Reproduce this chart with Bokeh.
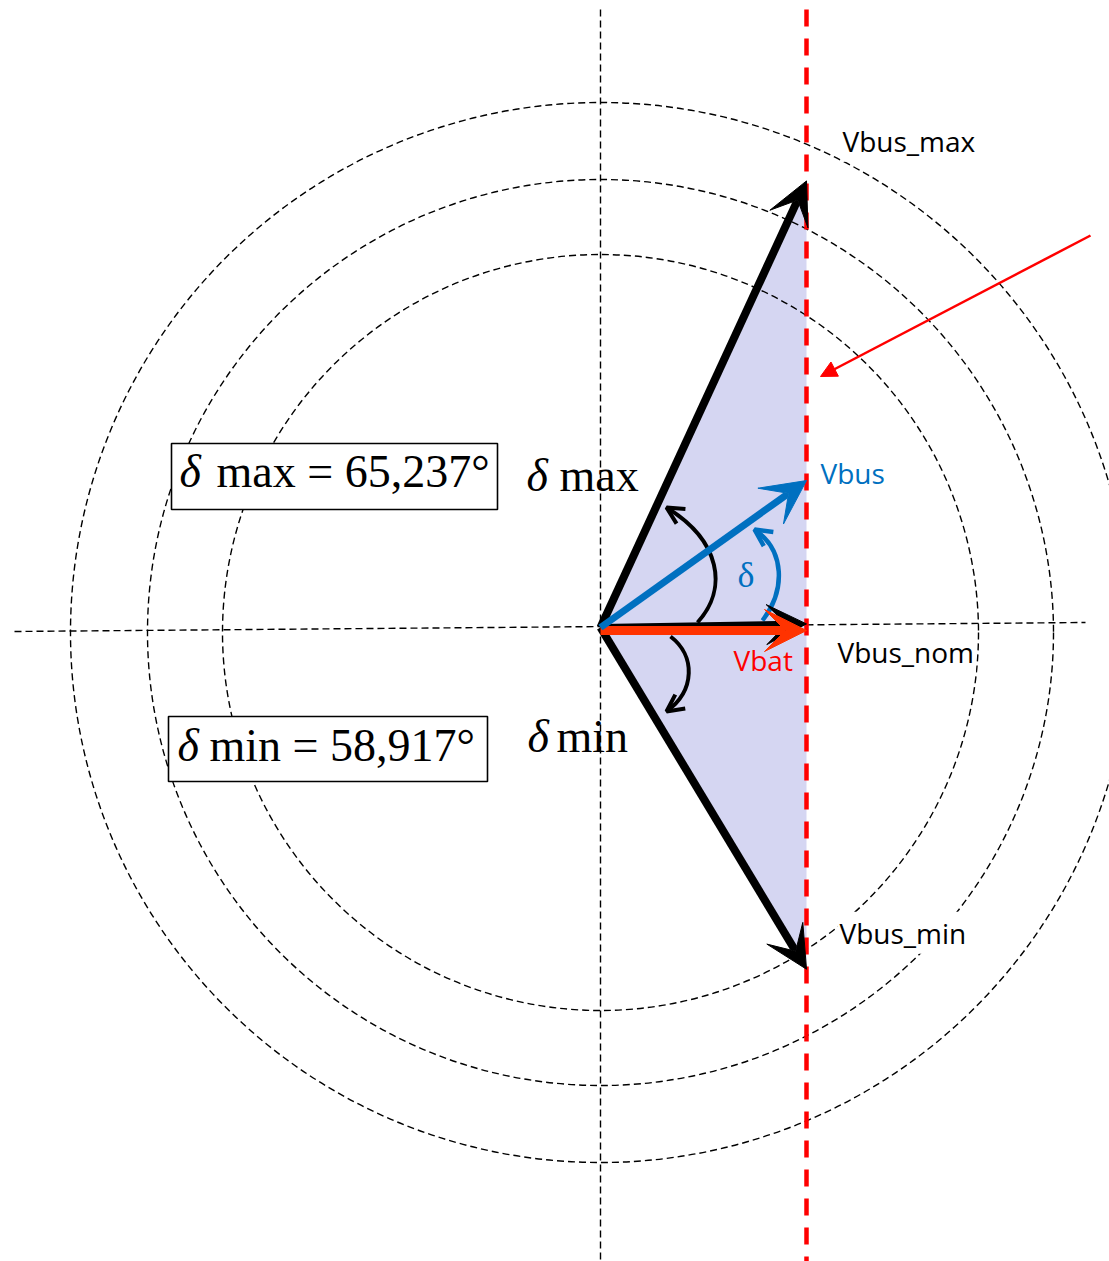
import math

from bokeh.core.properties import value
from bokeh.embed import file_html
from bokeh.models import Arrow, NormalHead, OpenHead, Range1d, VeeHead
from bokeh.plotting import figure
from bokeh.resources import INLINE

# ---- phasor data (plot units, origin at the common tail of the vectors) ----
v_bat = 206.0                     # length of Vbat along the real axis
delta_max_deg = 65.237            # load angle at Vbus_max
delta_min_deg = 58.917            # load angle at Vbus_min
delta_bus_deg = 35.5              # load angle of the drawn Vbus
delta_nom_deg = 1.0               # angle of Vbus_nom
circle_radii = [378, 453, 530]    # constant-magnitude loci
vec_labels = ["Vbus_max", "Vbus_nom", "Vbus_min"]

W, H = 1109, 1261
OX, OY = 600, 627                 # where the origin sits on the page

BLACK = "#000000"
BLUE = "#0070C0"
RED = "#FF0000"
ORANGE_RED = "#FF3300"
LAVENDER = "#D5D6F2"

p = figure(width=W, height=H,
           x_range=Range1d(-OX, W - OX), y_range=Range1d(-(H - OY), OY),
           x_axis_type=None, y_axis_type=None,
           output_backend="svg", toolbar_location=None,
           min_border=0, outline_line_color=None)
p.background_fill_color = "white"
p.border_fill_color = "white"


def tip(angle_deg):
    """Point on the vertical line x = v_bat reached at a given angle."""
    return v_bat, v_bat * math.tan(math.radians(angle_deg))


x_max, y_max = tip(delta_max_deg)
x_min, y_min = tip(-delta_min_deg)
x_bus, y_bus = tip(delta_bus_deg)
x_nom, y_nom = tip(delta_nom_deg)

# shaded operating region
p.patch([0, x_max, x_min], [0, y_max, y_min], fill_color=LAVENDER, line_color=None)

# dashed loci and reference axes
p.circle(x=[0] * 3, y=[-5] * 3, radius=circle_radii, fill_color=None,
         line_color=BLACK, line_width=1.4, line_dash="7 4")
p.segment(x0=[-586, 0], y0=[-4, 618], x1=[485, 0], y1=[5, -640],
          line_color=BLACK, line_width=1.4, line_dash="7 4")

# vertical locus of constant Vbat projection
p.segment(x0=[v_bat], y0=[618], x1=[v_bat], y1=[-640], line_color=RED,
          line_width=4.5, line_dash="17 12")

# pointer to the locus line
p.add_layout(Arrow(x_start=490, y_start=392, x_end=v_bat + 14, y_end=251,
                   line_color=RED, line_width=2.5,
                   end=NormalHead(size=16, fill_color=RED, line_color=RED)))


# main phasors
def vec(x1, y1, color, width, size, y0=0.0):
    p.add_layout(Arrow(x_start=0, y_start=y0, x_end=x1, y_end=y1,
                       line_color=color, line_width=width,
                       end=VeeHead(size=size, fill_color=color, line_color=color,
                                   line_width=1)))


vec(x_max, y_max, BLACK, 8, 42)
vec(x_min, y_min, BLACK, 8, 42)
vec(x_nom, y_nom, BLACK, 7, 40)
vec(v_bat, -3, ORANGE_RED, 9, 42, y0=-3)
vec(x_bus, y_bus, BLUE, 7, 44)


# curved angle markers
def curve(p0, c0, c1, p1, color, width, head):
    p.bezier(x0=[p0[0]], y0=[p0[1]], x1=[p1[0]], y1=[p1[1]],
             cx0=[c0[0]], cy0=[c0[1]], cx1=[c1[0]], cy1=[c1[1]],
             line_color=color, line_width=width)
    dx, dy = p1[0] - c1[0], p1[1] - c1[1]
    n = math.hypot(dx, dy)
    p.add_layout(Arrow(x_start=p1[0] - 4 * dx / n, y_start=p1[1] - 4 * dy / n,
                       x_end=p1[0], y_end=p1[1], line_alpha=0,
                       end=OpenHead(size=head, line_color=color, line_width=width)))


curve((97, 5), (128, 39), (120, 87), (66, 120), BLACK, 4, 17)
curve((70, -9), (95, -28), (95, -63), (66, -84), BLACK, 4, 17)
curve((162, 7), (185, 37), (185, 77), (154, 98), BLUE, 4.5, 17)

# boxed results
p.quad(left=[-429, -432], right=[-103, -113], top=[184, -89], bottom=[118, -154],
       fill_color="white", line_color=BLACK, line_width=1.6)


def fmt(v):
    return f"{v:.3f}".replace(".", ",") + "°"


SERIF = value("Liberation Serif")
SANS = value("Open Sans")


def txt(x, y, s, font, size, color=BLACK, style="normal", bg=None):
    # y is the baseline; lift by the renderer's baseline offset
    extra = {}
    if bg is not None:
        extra = dict(background_fill_color=bg, padding=2)
    p.text(x=[x], y=[y + 0.38 * size], text=[s], text_font=font,
           text_font_size=value(f"{size}px"),
           text_font_style=style, text_color=color,
           text_align="left", text_baseline="alphabetic", **extra)


txt(-421, 139, "δ", SERIF, 46, style="italic")
txt(-384, 139, "max = " + fmt(delta_max_deg), SERIF, 46)
txt(-423, -135, "δ", SERIF, 46, style="italic")
txt(-391, -135, "min = " + fmt(delta_min_deg), SERIF, 46)

txt(-74, 135, "δ", SERIF, 46, style="italic")
txt(-41, 135, "max", SERIF, 46)
txt(-73, -126, "δ", SERIF, 46, style="italic")
txt(-44, -126, "min", SERIF, 46)

txt(137, 39, "δ", SERIF, 36, color=BLUE)

txt(240, 476, vec_labels[0], SANS, 28, bg="white")
txt(235, -35, vec_labels[1], SANS, 28, bg="white")
txt(237, -316, vec_labels[2], SANS, 28, bg="white")
txt(218, 144, "Vbus", SANS, 28, color=BLUE, bg="white")
txt(133, -43, "Vbat", SANS, 28, color=RED)

open("out.html", "w").write(file_html(p, INLINE))
